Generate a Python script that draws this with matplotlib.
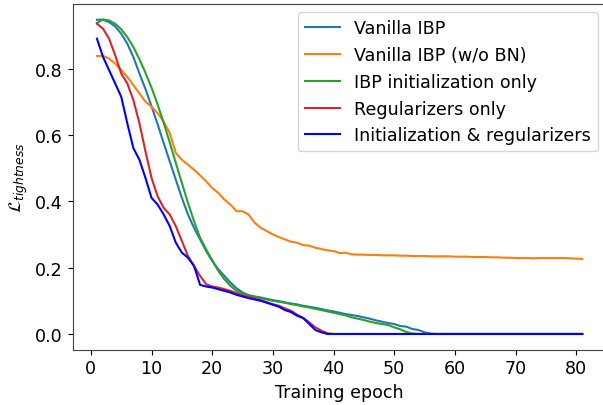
import numpy as np
import matplotlib
matplotlib.use("Agg")
import matplotlib.pyplot as plt

epochs = list(range(1, 82))

vanilla_ibp = [0.947, 0.947, 0.94, 0.927, 0.905, 0.875, 0.835, 0.785, 0.738, 0.686,
               0.632, 0.575, 0.52, 0.465, 0.41, 0.36, 0.32, 0.285, 0.25, 0.22,
               0.195, 0.175, 0.155, 0.138, 0.125, 0.117, 0.113, 0.11, 0.106, 0.102,
               0.099, 0.095, 0.092, 0.089, 0.085, 0.082, 0.079, 0.075, 0.071, 0.068,
               0.064, 0.06, 0.057, 0.054, 0.05, 0.046, 0.041, 0.037, 0.033, 0.03,
               0.024, 0.022, 0.015, 0.012, 0.005, 0.001, 0.0, 0.0, 0.0, 0.0,
               0.0, 0.0, 0.0, 0.0, 0.0, 0.0, 0.0, 0.0, 0.0, 0.0,
               0.0, 0.0, 0.0, 0.0, 0.0, 0.0, 0.0, 0.0, 0.0, 0.0, 0.0]

vanilla_no_bn = [0.838, 0.838, 0.83, 0.815, 0.795, 0.775, 0.75, 0.725, 0.70, 0.685,
                 0.665, 0.64, 0.605, 0.545, 0.525, 0.51, 0.495, 0.478, 0.46, 0.44,
                 0.425, 0.405, 0.39, 0.37, 0.37, 0.36, 0.335, 0.32, 0.31, 0.30,
                 0.292, 0.285, 0.278, 0.275, 0.268, 0.266, 0.26, 0.256, 0.252, 0.25,
                 0.244, 0.245, 0.24, 0.239, 0.239, 0.238, 0.238, 0.237, 0.237, 0.237,
                 0.236, 0.236, 0.235, 0.235, 0.235, 0.234, 0.234, 0.234, 0.234, 0.233,
                 0.233, 0.233, 0.232, 0.232, 0.232, 0.231, 0.231, 0.230, 0.230, 0.229,
                 0.229, 0.229, 0.228, 0.229, 0.229, 0.229, 0.229, 0.229, 0.228, 0.227, 0.226]

ibp_init_only = [0.937, 0.948, 0.945, 0.935, 0.918, 0.895, 0.865, 0.828, 0.787, 0.742,
                 0.692, 0.636, 0.577, 0.515, 0.455, 0.395, 0.34, 0.29, 0.255, 0.222,
                 0.19, 0.165, 0.145, 0.13, 0.122, 0.116, 0.112, 0.108, 0.104, 0.10,
                 0.097, 0.094, 0.09, 0.087, 0.083, 0.08, 0.076, 0.072, 0.068, 0.064,
                 0.06, 0.056, 0.05, 0.046, 0.042, 0.037, 0.033, 0.03, 0.027, 0.02,
                 0.014, 0.006, 0.001, 0.0, 0.0, 0.0, 0.0, 0.0, 0.0, 0.0,
                 0.0, 0.0, 0.0, 0.0, 0.0, 0.0, 0.0, 0.0, 0.0, 0.0,
                 0.0, 0.0, 0.0, 0.0, 0.0, 0.0, 0.0, 0.0, 0.0, 0.0, 0.0]

regularizers_only = [0.935, 0.92, 0.89, 0.84, 0.785, 0.755, 0.705, 0.635, 0.55, 0.47,
                     0.415, 0.38, 0.36, 0.325, 0.28, 0.235, 0.205, 0.175, 0.15, 0.143,
                     0.14, 0.135, 0.13, 0.123, 0.117, 0.112, 0.107, 0.102, 0.096, 0.09,
                     0.085, 0.077, 0.07, 0.058, 0.048, 0.035, 0.02, 0.01, 0.002, 0.0,
                     0.0, 0.0, 0.0, 0.0, 0.0, 0.0, 0.0, 0.0, 0.0, 0.0,
                     0.0, 0.0, 0.0, 0.0, 0.0, 0.0, 0.0, 0.0, 0.0, 0.0,
                     0.0, 0.0, 0.0, 0.0, 0.0, 0.0, 0.0, 0.0, 0.0, 0.0,
                     0.0, 0.0, 0.0, 0.0, 0.0, 0.0, 0.0, 0.0, 0.0, 0.0, 0.0]

init_and_reg = [0.89, 0.835, 0.795, 0.755, 0.715, 0.635, 0.56, 0.525, 0.47, 0.41,
                0.39, 0.36, 0.325, 0.275, 0.245, 0.23, 0.205, 0.148, 0.143, 0.14,
                0.135, 0.13, 0.125, 0.118, 0.113, 0.108, 0.104, 0.10, 0.094, 0.088,
                0.082, 0.072, 0.066, 0.055, 0.048, 0.03, 0.012, 0.005, 0.0, 0.0,
                0.0, 0.0, 0.0, 0.0, 0.0, 0.0, 0.0, 0.0, 0.0, 0.0,
                0.0, 0.0, 0.0, 0.0, 0.0, 0.0, 0.0, 0.0, 0.0, 0.0,
                0.0, 0.0, 0.0, 0.0, 0.0, 0.0, 0.0, 0.0, 0.0, 0.0,
                0.0, 0.0, 0.0, 0.0, 0.0, 0.0, 0.0, 0.0, 0.0, 0.0, 0.0]

labels = ["Vanilla IBP", "Vanilla IBP (w/o BN)", "IBP initialization only",
          "Regularizers only", "Initialization & regularizers"]
colors = ["#1f77b4", "#ff7f0e", "#2ca02c", "#d62728", "#0000ff"]

FS = 12.6
plt.rcParams['font.size'] = FS

fig = plt.figure(figsize=(6.03, 4.06), dpi=100)
W, H = 603.0, 406.0
left, right, top, bottom = 72.7, 606.5, 4.7, 350.7
ax = fig.add_axes([left / W, 1 - bottom / H, (right - left) / W, (bottom - top) / H])

series = [vanilla_ibp, vanilla_no_bn, ibp_init_only, regularizers_only, init_and_reg]
for s, lab, c in zip(series, labels, colors):
    ax.plot(epochs, s, color=c, label=lab, linewidth=1.5)

ax.set_xticks([0, 10, 20, 30, 40, 50, 60, 70, 80])
ax.set_yticks([0.0, 0.2, 0.4, 0.6, 0.8])
ax.set_xlabel("Training epoch", fontsize=FS)
ax.set_ylabel(r"$\mathcal{L}_{tightness}$", fontsize=FS)
ax.tick_params(labelsize=FS)
for sp in ax.spines.values():
    sp.set_color("#444444")
ax.legend(loc="upper right", fontsize=FS)

fig.savefig("out.png", dpi=100)
